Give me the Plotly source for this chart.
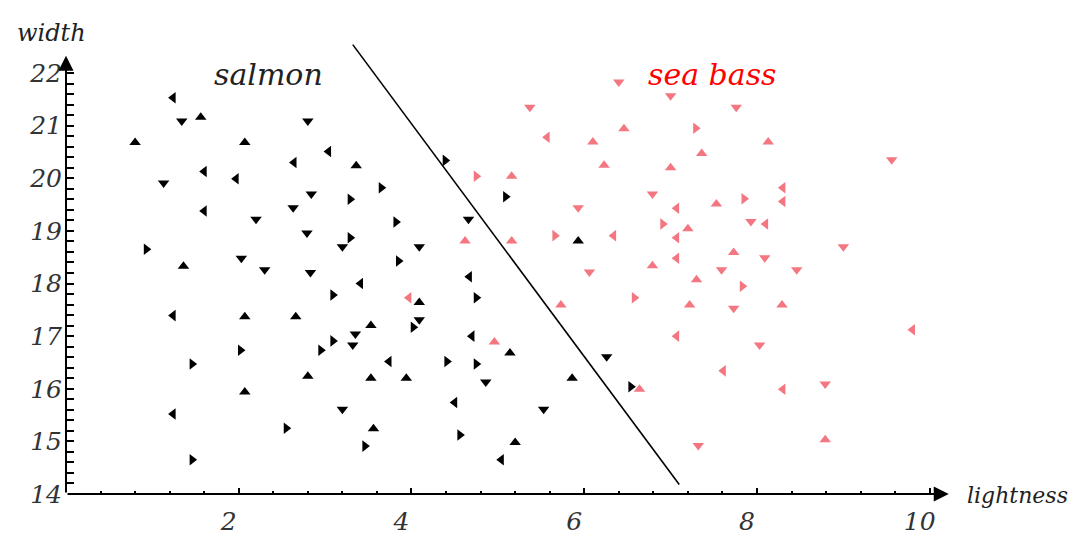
import plotly.graph_objects as go
import numpy as np

# ---- data ----
salmon_x = [1.24, 1.34, 1.56, 2.80, 0.80, 2.07, 3.04, 3.36, 2.64, 1.60, 1.97, 1.13, 2.84, 3.29, 1.60,
            2.63, 2.20, 2.79, 3.29, 3.20, 0.93, 1.36, 2.03, 2.30, 2.83,
            4.39, 3.65, 3.82, 4.09, 3.85, 4.67, 5.09, 4.66, 5.93,
            3.41, 4.09, 4.75, 3.53, 4.09, 4.02, 4.70, 5.14, 3.74, 4.41, 4.75, 3.53, 3.94, 4.86,
            4.50, 5.53, 5.86, 6.26, 6.54, 3.56, 3.46, 4.56, 5.20, 5.04,
            3.09, 1.24, 2.07, 2.66, 3.35, 3.09, 3.32, 2.02, 2.95, 1.46, 2.80, 2.07, 3.20, 1.24, 2.55, 1.46]
salmon_y = [21.53, 21.09, 21.16, 21.09, 20.68, 20.68, 20.51, 20.24, 20.30, 20.13, 19.99, 19.91, 19.70, 19.60, 19.38,
            19.44, 19.22, 18.96, 18.87, 18.70, 18.65, 18.33, 18.48, 18.26, 18.21,
            20.34, 19.82, 19.17, 18.70, 18.43, 18.13, 19.65, 19.22, 18.81,
            18.00, 17.64, 17.73, 17.20, 17.31, 17.17, 17.00, 16.68, 16.52, 16.52, 16.47, 16.20, 16.20, 16.13,
            15.74, 15.61, 16.20, 16.61, 16.04, 15.24, 14.91, 15.12, 14.98, 14.65,
            17.78, 17.39, 17.37, 17.37, 17.04, 16.91, 16.83, 16.73, 16.73, 16.47, 16.24, 15.94, 15.61, 15.52, 15.25, 14.65]
salmon_dir = ["L", "D", "U", "D", "U", "U", "L", "U", "L", "L", "L", "D", "D", "R", "L",
              "D", "D", "D", "R", "D", "R", "U", "D", "D", "D",
              "R", "R", "R", "D", "R", "L", "R", "D", "U",
              "L", "U", "R", "U", "D", "R", "L", "U", "L", "R", "R", "U", "U", "D",
              "L", "D", "U", "D", "R", "U", "R", "R", "U", "L",
              "R", "L", "U", "U", "D", "R", "D", "R", "R", "R", "U", "U", "D", "L", "R", "R"]

bass_x = [5.37, 6.40, 5.57, 6.10, 6.46, 6.23, 4.75, 5.16, 5.93, 4.62, 5.16, 5.66, 6.34, 6.06,
          7.00, 7.76, 7.29, 8.13, 7.36, 7.00, 9.56, 6.79, 8.30, 8.30, 7.85, 7.53, 7.07, 6.91, 7.20,
          7.93, 8.10, 7.07, 9.00, 7.73, 7.07, 8.09, 6.79, 7.59, 8.46, 7.30,
          7.83, 7.22, 7.73, 8.29, 7.07, 8.03, 9.80, 7.61, 8.30, 8.79, 7.32, 8.79,
          3.97, 5.73, 6.58, 4.96, 6.64]
bass_y = [21.35, 21.83, 20.78, 20.69, 20.94, 20.25, 20.04, 20.04, 19.44, 18.81, 18.81, 18.91, 18.91, 18.22,
          21.57, 21.35, 20.95, 20.69, 20.47, 20.20, 20.35, 19.70, 19.82, 19.56, 19.61, 19.51, 19.43, 19.13, 19.04,
          19.18, 19.13, 18.87, 18.70, 18.59, 18.48, 18.49, 18.34, 18.26, 18.26, 18.07,
          17.95, 17.59, 17.53, 17.59, 17.00, 16.83, 17.12, 16.34, 15.99, 16.09, 14.92, 15.03,
          17.73, 17.59, 17.73, 16.89, 15.99]
bass_dir = ["D", "D", "L", "U", "U", "U", "R", "U", "D", "U", "U", "R", "L", "D",
            "D", "D", "R", "U", "U", "U", "D", "D", "L", "L", "R", "U", "L", "R", "U",
            "D", "L", "L", "D", "U", "L", "D", "U", "D", "D", "U",
            "R", "U", "D", "U", "L", "D", "L", "L", "L", "D", "D", "U",
            "L", "U", "R", "U", "U"]

boundary_x = [3.32, 7.10]
boundary_y = [22.54, 14.18]

x_ticks = [2, 4, 6, 8, 10]
y_ticks = [14, 15, 16, 17, 18, 19, 20, 21, 22]

# ---- styling ----
SYM = {"L": "triangle-left", "R": "triangle-right", "U": "triangle-up", "D": "triangle-down"}
PINK = "rgb(244,118,128)"
FONT = "DejaVu Serif"

fig = go.Figure()
fig.add_trace(go.Scatter(x=boundary_x, y=boundary_y, mode="lines",
                         line=dict(color="black", width=1.6), showlegend=False, hoverinfo="skip"))
fig.add_trace(go.Scatter(x=salmon_x, y=salmon_y, mode="markers", name="salmon",
                         marker=dict(symbol=[SYM[d] for d in salmon_dir], size=10, color="black"),
                         showlegend=False))
fig.add_trace(go.Scatter(x=bass_x, y=bass_y, mode="markers", name="sea bass",
                         marker=dict(symbol=[SYM[d] for d in bass_dir], size=10, color=PINK),
                         showlegend=False))

x_minor = [round(v, 2) for v in np.arange(0.4, 10.01, 0.4) if abs(v / 2 - round(v / 2)) > 1e-6]
y_minor = [round(v, 2) for v in np.arange(14.2, 21.81, 0.2) if abs(v - round(v)) > 1e-6]

tickfont = dict(family=FONT, size=25, color="#333", style="italic")
fig.update_xaxes(range=[0, 10.2], tickmode="array", tickvals=x_ticks,
                 ticks="inside", ticklen=6, tickwidth=2, tickcolor="black",
                 minor=dict(tickmode="array", tickvals=x_minor, ticks="inside", ticklen=3,
                            tickwidth=2, tickcolor="black"),
                 showgrid=False, zeroline=False, showline=False,
                 tickfont=tickfont, ticklabelstandoff=10, ticklabelshift=-10)
fig.update_yaxes(range=[14, 22.59], tickmode="array", tickvals=y_ticks,
                 ticks="inside", ticklen=8, tickwidth=2, tickcolor="black",
                 minor=dict(tickmode="array", tickvals=y_minor, ticks="inside", ticklen=8,
                            tickwidth=2, tickcolor="black"),
                 showgrid=False, zeroline=False, showline=False,
                 tickfont=tickfont, ticklabelstandoff=3)

# axis lines with arrow heads
fig.add_annotation(x=10.22, y=14, ax=0, ay=14, xref="x", yref="y", axref="x", ayref="y",
                   showarrow=True, arrowhead=2, arrowsize=1.5, arrowwidth=2, arrowcolor="black",
                   text="", standoff=0, startstandoff=0)
fig.add_annotation(x=0, y=22.33, ax=0, ay=14, xref="x", yref="y", axref="x", ayref="y",
                   showarrow=True, arrowhead=2, arrowsize=1.5, arrowwidth=2, arrowcolor="black",
                   text="", standoff=0, startstandoff=0)

fig.add_annotation(x=2.34, y=21.97, xref="x", yref="y", text="salmon", showarrow=False,
                   font=dict(family=FONT, size=30, color="#222", style="italic"))
fig.add_annotation(x=7.48, y=21.97, xref="x", yref="y", text="sea bass", showarrow=False,
                   font=dict(family=FONT, size=30, color="red", style="italic"))
fig.add_annotation(x=-0.016, y=1.02, xref="paper", yref="paper", text="width", showarrow=False,
                   xanchor="center", yanchor="middle",
                   font=dict(family=FONT, size=24, color="#222", style="italic"))
fig.add_annotation(x=1.0204, y=-0.004, xref="paper", yref="paper", text="lightness", showarrow=False,
                   xanchor="left", yanchor="middle",
                   font=dict(family=FONT, size=22, color="#222", style="italic"))

fig.update_layout(width=1082, height=540, margin=dict(l=58, r=143, t=34, b=46),
                  paper_bgcolor="white", plot_bgcolor="white")

fig.write_html("out.html")
